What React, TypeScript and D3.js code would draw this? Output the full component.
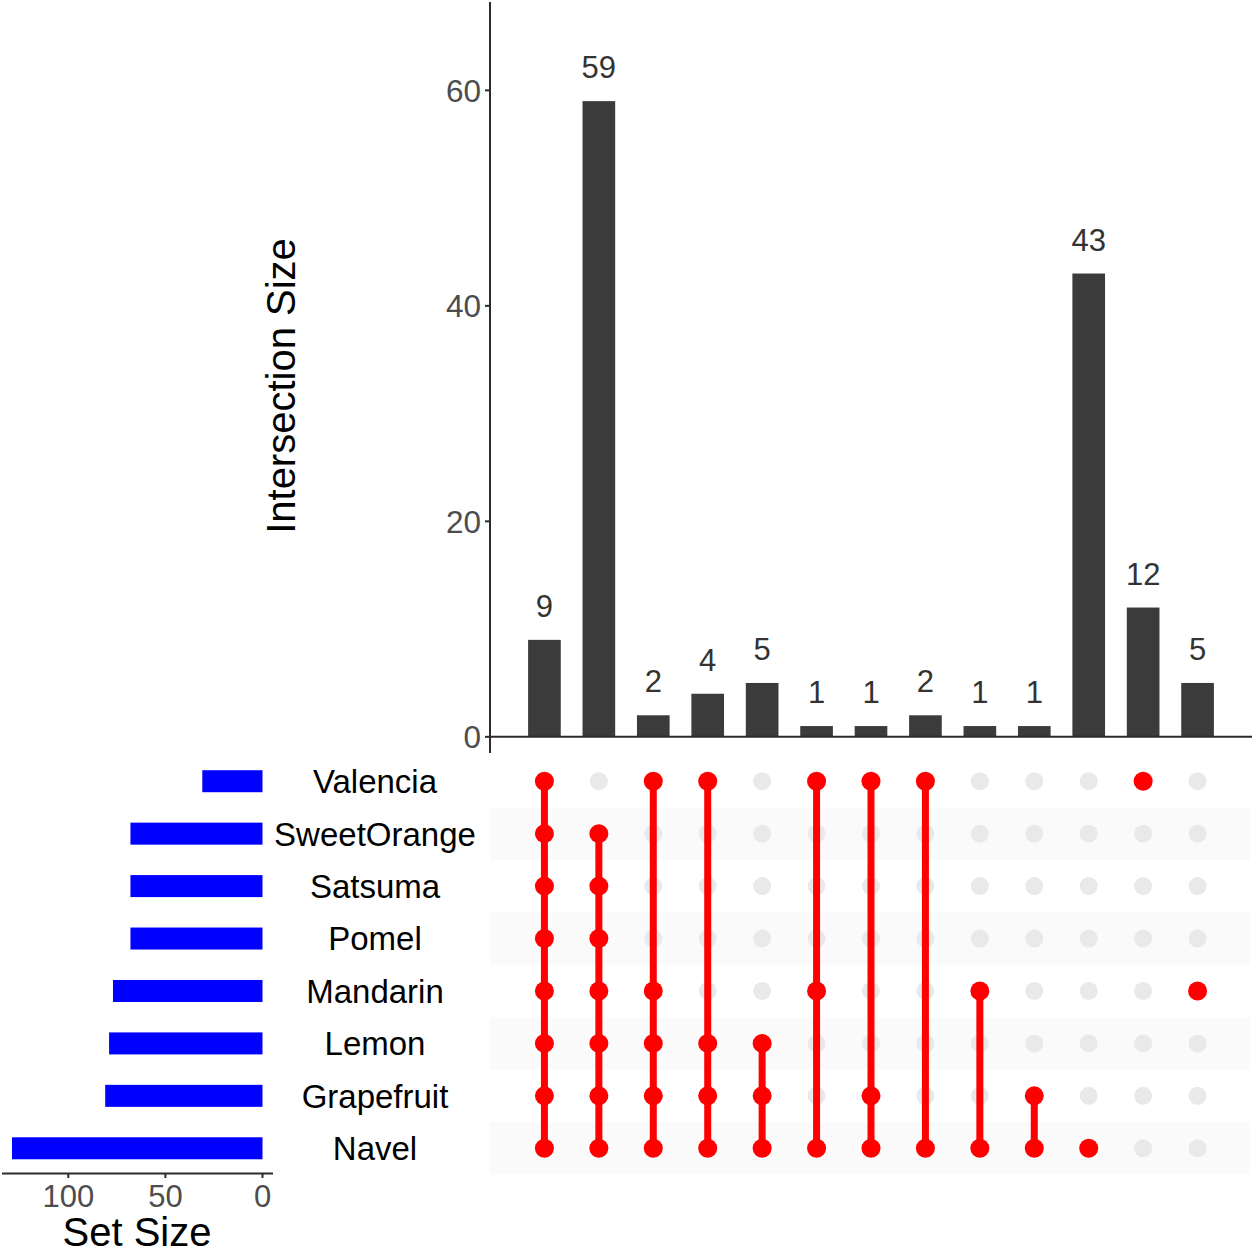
import React from "react";
import * as d3 from "d3";

const sets = ["Valencia", "SweetOrange", "Satsuma", "Pomel", "Mandarin", "Lemon", "Grapefruit", "Navel"];
const setSizes = [31, 68, 68, 68, 77, 79, 81, 129];
const intersectionSizes = [9, 59, 2, 4, 5, 1, 1, 2, 1, 1, 43, 12, 5];
const intersectionMembers = [
  ["Valencia", "SweetOrange", "Satsuma", "Pomel", "Mandarin", "Lemon", "Grapefruit", "Navel"],
  ["SweetOrange", "Satsuma", "Pomel", "Mandarin", "Lemon", "Grapefruit", "Navel"],
  ["Valencia", "Mandarin", "Lemon", "Grapefruit", "Navel"],
  ["Valencia", "Lemon", "Grapefruit", "Navel"],
  ["Lemon", "Grapefruit", "Navel"],
  ["Valencia", "Mandarin", "Navel"],
  ["Valencia", "Grapefruit", "Navel"],
  ["Valencia", "Navel"],
  ["Mandarin", "Navel"],
  ["Grapefruit", "Navel"],
  ["Navel"],
  ["Valencia"],
  ["Mandarin"],
];
const intersectionTicks = [0, 20, 40, 60];
const setSizeTicks = [0, 50, 100];

const FONT = "'Liberation Sans', Arial, Helvetica, sans-serif";

export default function App() {
  const W = 1255;
  const H = 1250;
  const cols = intersectionSizes.map((_, i) => i);

  const x = d3.scalePoint<number>().domain(cols).range([490, 1252]).padding(1);
  const step = x.step();
  const barW = step * 0.6;

  const y = d3.scaleLinear().domain([-1.5, 68.2]).range([753, 2]);

  const rowBand = d3.scaleBand<string>().domain(sets).range([755, 1174.5]).padding(0);
  const rowY = (s: string) => (rowBand(s) as number) + rowBand.bandwidth() / 2;

  const sx = d3.scaleLinear().domain([0, 100]).range([262.5, 68.3]);

  const axisColor = "#2b2b2b";
  const tickColor = "#4d4d4d";

  return (
    <svg
      width={W}
      height={H}
      style={{ position: "absolute", left: 0, top: 0, background: "#fff" }}
      fontFamily={FONT}
    >
      <rect x={0} y={0} width={W} height={H} fill="#fff" />

      {/* Top bar chart */}
      {cols.map((c) => (
        <rect
          key={"bar" + c}
          x={(x(c) as number) - barW / 2}
          y={y(intersectionSizes[c])}
          width={barW}
          height={y(0) - y(intersectionSizes[c])}
          fill="#3b3b3b"
        />
      ))}
      {cols.map((c) => (
        <text
          key={"lbl" + c}
          x={x(c) as number}
          y={y(intersectionSizes[c]) - 23}
          textAnchor="middle"
          fontSize={31}
          fill="#333"
        >
          {intersectionSizes[c]}
        </text>
      ))}
      {/* axes */}
      <line x1={490} x2={490} y1={y.range()[1]} y2={y.range()[0]} stroke={axisColor} strokeWidth={2} />
      <line x1={489} x2={1252} y1={y(0)} y2={y(0)} stroke={axisColor} strokeWidth={2} />
      {intersectionTicks.map((t) => (
        <g key={"yt" + t}>
          <line x1={485} x2={490} y1={y(t)} y2={y(t)} stroke={axisColor} strokeWidth={2} />
          <text x={481} y={y(t)} dy="0.36em" textAnchor="end" fontSize={31.5} fill={tickColor}>
            {t}
          </text>
        </g>
      ))}
      <text
        transform={`translate(295, 386) rotate(-90)`}
        textAnchor="middle"
        fontSize={40}
        fill="#000"
      >
        Intersection Size
      </text>

      {/* Matrix shading */}
      {sets.map((s, i) =>
        i % 2 === 1 ? (
          <rect
            key={"shade" + s}
            x={490}
            y={rowBand(s) as number}
            width={1250 - 490}
            height={rowBand.bandwidth()}
            fill="#fafafa"
          />
        ) : null
      )}
      {/* empty dots */}
      {cols.map((c) =>
        sets.map((s) => (
          <circle key={"e" + c + s} cx={x(c) as number} cy={rowY(s)} r={9} fill="#e9e9e9" />
        ))
      )}
      {/* lines */}
      {cols.map((c) => {
        const ys = intersectionMembers[c].map(rowY);
        const y1 = d3.min(ys) as number;
        const y2 = d3.max(ys) as number;
        return y1 === y2 ? null : (
          <line key={"ln" + c} x1={x(c) as number} x2={x(c) as number} y1={y1} y2={y2} stroke="#ff0000" strokeWidth={7} />
        );
      })}
      {/* filled dots */}
      {cols.map((c) =>
        intersectionMembers[c].map((s) => (
          <circle key={"f" + c + s} cx={x(c) as number} cy={rowY(s)} r={9.5} fill="#ff0000" />
        ))
      )}

      {/* set names */}
      {sets.map((s) => (
        <text key={"name" + s} x={375} y={rowY(s)} dy="0.36em" textAnchor="middle" fontSize={33} fill="#000">
          {s}
        </text>
      ))}

      {/* set size bars */}
      {sets.map((s, i) => (
        <rect
          key={"sb" + s}
          x={sx(setSizes[i])}
          y={rowY(s) - 11}
          width={sx(0) - sx(setSizes[i])}
          height={22}
          fill="#0000ff"
        />
      ))}
      <line x1={2} x2={273} y1={1173.5} y2={1173.5} stroke={axisColor} strokeWidth={2} />
      {setSizeTicks.map((t) => (
        <g key={"st" + t}>
          <line x1={sx(t)} x2={sx(t)} y1={1173.5} y2={1178} stroke={axisColor} strokeWidth={2} />
          <text x={sx(t)} y={1207} textAnchor="middle" fontSize={31} fill={tickColor}>
            {t}
          </text>
        </g>
      ))}
      <text x={137} y={1246} textAnchor="middle" fontSize={40} fill="#000">
        Set Size
      </text>
    </svg>
  );
}
